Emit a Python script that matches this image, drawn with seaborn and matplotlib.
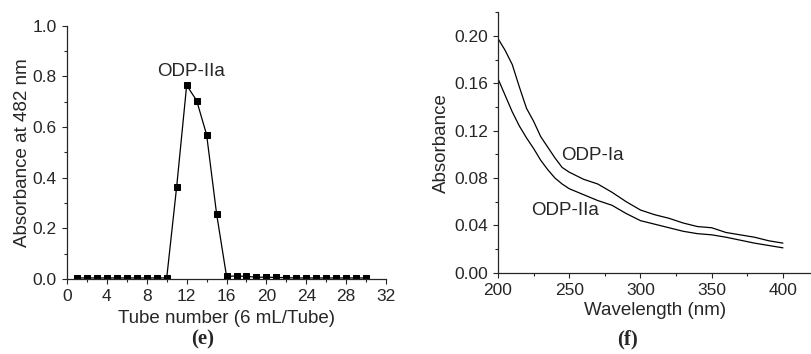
import numpy as np
import pandas as pd
import matplotlib.pyplot as plt
import seaborn as sns
from matplotlib.ticker import MultipleLocator

# panel (e): elution profile
tubes = list(range(1, 31))
absorb_482 = [0.004, 0.004, 0.004, 0.004, 0.004, 0.004, 0.004, 0.004, 0.004, 0.004,
              0.365, 0.765, 0.705, 0.570, 0.258, 0.010, 0.012, 0.010, 0.007, 0.007,
              0.006, 0.005, 0.004, 0.004, 0.004, 0.004, 0.004, 0.004, 0.004, 0.004]

# panel (f): UV spectra
wavelength = [200, 205, 210, 215, 220, 225, 230, 235, 240, 245, 250, 260, 270, 280,
              290, 300, 310, 320, 330, 340, 350, 360, 370, 380, 390, 400]
odp_ia = [0.198, 0.188, 0.176, 0.157, 0.139, 0.128, 0.115, 0.106, 0.097, 0.089, 0.085,
          0.079, 0.075, 0.068, 0.060, 0.053, 0.049, 0.046, 0.042, 0.039, 0.038, 0.034,
          0.032, 0.030, 0.027, 0.025]
odp_iia = [0.164, 0.150, 0.136, 0.124, 0.114, 0.105, 0.095, 0.087, 0.080, 0.075, 0.071,
           0.066, 0.061, 0.057, 0.050, 0.044, 0.041, 0.038, 0.035, 0.033, 0.032, 0.030,
           0.0275, 0.025, 0.023, 0.021]

sns.set_style("ticks")
plt.rcParams["font.family"] = ["Liberation Sans", "DejaVu Sans"]
plt.rcParams["xtick.direction"] = "out"
plt.rcParams["ytick.direction"] = "out"

fig = plt.figure(figsize=(8.12, 3.54), dpi=100)
ax1 = fig.add_axes([0.0825, 0.212, 0.393, 0.715])
ax2 = fig.add_axes([0.6133, 0.2297, 0.386, 0.735])

df_e = pd.DataFrame({"tube": tubes, "abs": absorb_482})
sns.lineplot(data=df_e, x="tube", y="abs", ax=ax1, color="black", lw=0.9,
             marker="s", markersize=3.8, markeredgecolor="black")
ax1.set_xlim(0, 32)
ax1.set_ylim(0, 1.0)
ax1.xaxis.set_major_locator(MultipleLocator(4))
ax1.xaxis.set_minor_locator(MultipleLocator(2))
ax1.yaxis.set_major_locator(MultipleLocator(0.2))
ax1.yaxis.set_minor_locator(MultipleLocator(0.1))
ax1.set_yticklabels([f"{v:.1f}" for v in ax1.get_yticks()])
ax1.set_xlabel("Tube number (6 mL/Tube)", fontsize=13.5, labelpad=4)
ax1.set_ylabel("Absorbance at 482 nm", fontsize=13.5, labelpad=1)
ax1.text(12.4, 0.82, "ODP-IIa", fontsize=13.5, ha="center", va="center")

df_f = pd.DataFrame({"wl": wavelength + wavelength,
                     "abs": odp_ia + odp_iia,
                     "sample": ["ODP-Ia"] * len(wavelength) + ["ODP-IIa"] * len(wavelength)})
sns.lineplot(data=df_f, x="wl", y="abs", hue="sample", palette=["black", "black"],
             ax=ax2, lw=0.9, legend=False)
ax2.set_xlim(200, 420)
ax2.set_ylim(0, 0.22)
ax2.xaxis.set_major_locator(MultipleLocator(50))
ax2.xaxis.set_minor_locator(MultipleLocator(25))
ax2.yaxis.set_minor_locator(MultipleLocator(0.02))
ax2.set_yticks([0, 0.04, 0.08, 0.12, 0.16, 0.20])
ax2.set_yticklabels(["0.00", "0.04", "0.08", "0.12", "0.16", "0.20"])
ax2.set_xticks([200, 250, 300, 350, 400])
ax2.set_xlabel("Wavelength (nm)", fontsize=13.5, labelpad=3)
ax2.set_ylabel("Absorbance", fontsize=13.5, labelpad=3)
ax2.text(266.6, 0.099, "ODP-Ia", fontsize=13.5, ha="center", va="center")
ax2.text(247.4, 0.053, "ODP-IIa", fontsize=13.5, ha="center", va="center")

for ax in (ax1, ax2):
    sns.despine(ax=ax)
    ax.tick_params(axis="both", which="major", labelsize=12.5, length=3.8, width=0.8, pad=3.5)
    ax.tick_params(axis="both", which="minor", length=2, width=0.8)
    for s in ax.spines.values():
        s.set_linewidth(0.9)

fig.text(0.25, 0.042, "(e)", fontsize=15, fontweight="bold", family="Liberation Serif",
         ha="center", va="center")
fig.text(0.773, 0.042, "(f)", fontsize=15, fontweight="bold", family="Liberation Serif",
         ha="center", va="center")

fig.savefig("out.png", dpi=100)
